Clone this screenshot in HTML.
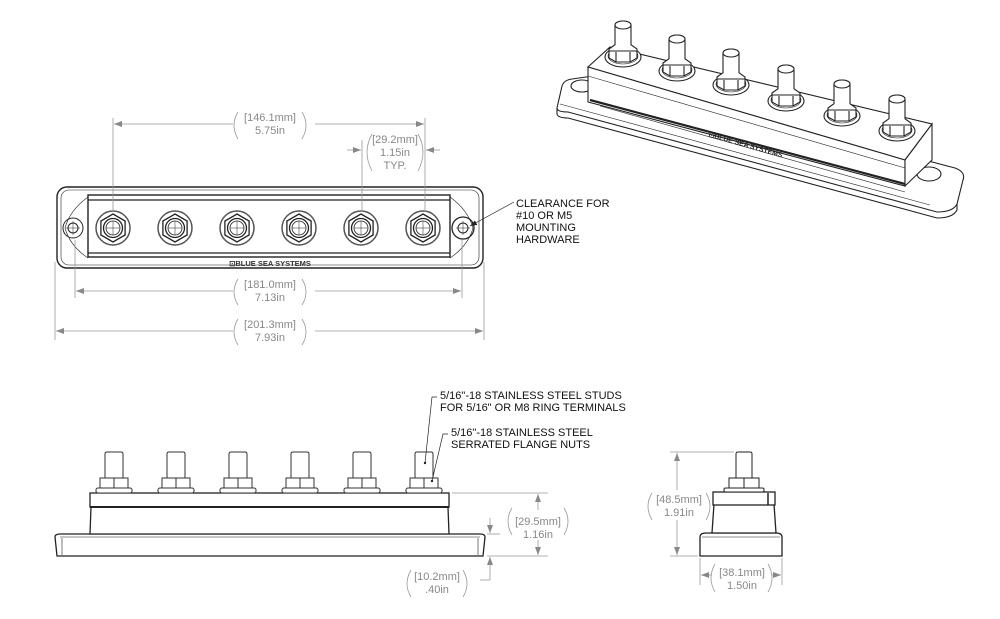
<!DOCTYPE html>
<html><head><meta charset="utf-8"><style>
html,body{margin:0;padding:0;background:#fff}
svg{display:block}
text{font-family:"Liberation Sans",sans-serif}
.d{fill:#888;font-size:11px;text-anchor:middle}
.l{fill:#111;font-size:11px}
</style></head><body>
<svg width="1000" height="619" viewBox="0 0 1000 619" xmlns="http://www.w3.org/2000/svg">
<defs>
<marker id="a" markerWidth="8" markerHeight="6" refX="8" refY="3" orient="auto" markerUnits="userSpaceOnUse"><path d="M0,0 L8,3 L0,6 z" fill="#888"/></marker>
<marker id="k" markerWidth="7" markerHeight="5" refX="7" refY="2.5" orient="auto" markerUnits="userSpaceOnUse"><path d="M0,0 L7,2.5 L0,5 z" fill="#222"/></marker>
<g id="tn" fill="none" stroke="#222">
<circle r="17" stroke="#555" stroke-width="1.5"/>
<polygon points="0,-14 12.1,-7 12.1,7 0,14 -12.1,7 -12.1,-7" stroke-width="1.3"/>
<circle r="9.5" stroke-width="1.3"/>
<circle r="7" stroke-width="0.8"/>
<line x1="-7" y1="0" x2="7" y2="0" stroke-width="0.5"/><line x1="0" y1="-7" x2="0" y2="7" stroke-width="0.5"/>
</g>
<g id="sn" fill="#fff" stroke="#333" stroke-width="1">
<path d="M-9,487 L-9,454 Q-9,452 -7,452 L7,452 Q9,452 9,454 L9,487"/>
<rect x="-14" y="478" width="28" height="10"/>
<line x1="0" y1="478" x2="0" y2="488"/>
<rect x="-18" y="488" width="36" height="5" rx="2"/>
</g>
<g id="iso" fill="#fff" stroke="#222" stroke-width="1.1">
<ellipse cx="0" cy="4" rx="18" ry="10"/>
<ellipse cx="0" cy="3" rx="15" ry="8" stroke-width="0.6"/>
<polygon points="-14,-4 -7,-9 7,-9 14,-4 14,5 7,9 -7,9 -14,5"/>
<line x1="-7" y1="-1" x2="-7" y2="9"/><line x1="7" y1="-1" x2="7" y2="9"/><line x1="-14" y1="-2" x2="14" y2="-2"/>
<path d="M-8,-8 L-8,-28 A8,4 0 0 1 8,-28 L8,-8"/>
<ellipse cx="0" cy="-28" rx="8" ry="4"/>
</g>
</defs>

<!-- ISOMETRIC -->
<g fill="#fff" stroke="#222" stroke-width="1.1">
<path d="M557,108 L562,86 Q564,80 572,79 L600,75 L955,168 Q966,172 963,180 L957,204 Q953,212 937,212 L568,112 Q557,112 557,108 z"/>
<path d="M557,108 L557,114 Q558,118 568,118 L937,218 Q953,218 957,210 L957,204" fill="none"/>
<path d="M560,104 L930,205" fill="none" stroke-width="0.6"/>
<ellipse cx="582" cy="86" rx="11" ry="6"/>
<ellipse cx="929" cy="174" rx="12" ry="7"/>
<polygon points="588,67 610,47 932,124 905,160"/>
<polygon points="588,67 905,160 905,186 588,102"/>
<polygon points="905,160 932,124 932,160 905,186"/>
<line x1="588" y1="76" x2="905" y2="168" stroke-width="0.6"/>
<line x1="590" y1="100" x2="905" y2="184" stroke-width="2.2"/>
<line x1="600" y1="106" x2="905" y2="192" stroke-width="0.6"/>
</g>
<text x="745" y="147" font-size="7" font-weight="bold" fill="#222" transform="rotate(16 745 147)" text-anchor="middle" font-family="Liberation Sans">⊡BLUE SEA SYSTEMS</text>
<use href="#iso" x="623" y="53"/><use href="#iso" x="677" y="67"/><use href="#iso" x="731" y="81"/>
<use href="#iso" x="786" y="97"/><use href="#iso" x="842" y="112"/><use href="#iso" x="897" y="127"/>

<!-- TOP VIEW -->
<g fill="none" stroke="#222">
<rect x="57" y="187" width="426" height="81" rx="10" stroke-width="1.4"/>
<rect x="61" y="190" width="418" height="75" rx="8" stroke-width="0.6"/>
<path d="M88,197 Q70,210 65,228 Q70,246 88,258" stroke-width="0.6"/>
<path d="M450,197 Q468,210 473,228 Q468,246 450,258" stroke-width="0.6"/>
<rect x="88" y="195" width="362" height="62" stroke-width="1.4"/>
<line x1="88" y1="200" x2="450" y2="200" stroke-width="1.2"/>
<line x1="88" y1="253" x2="450" y2="253" stroke-width="1.2"/>
<circle cx="73" cy="228" r="10"/><circle cx="73" cy="228" r="5"/>
<line x1="66" y1="228" x2="80" y2="228" stroke-width="0.5"/><line x1="73" y1="221" x2="73" y2="235" stroke-width="0.5"/>
<circle cx="463" cy="228" r="11" stroke-width="1.3"/><circle cx="463" cy="228" r="5"/>
<line x1="456" y1="228" x2="470" y2="228" stroke-width="0.5"/><line x1="463" y1="221" x2="463" y2="235" stroke-width="0.5"/>
</g>
<use href="#tn" x="113" y="228"/><use href="#tn" x="175" y="228"/><use href="#tn" x="237" y="228"/>
<use href="#tn" x="299" y="228"/><use href="#tn" x="361" y="228"/><use href="#tn" x="423" y="228"/>
<text x="270" y="266" font-size="7.5" font-weight="bold" fill="#333" text-anchor="middle">⊡BLUE SEA SYSTEMS</text>

<!-- dims top -->
<g stroke="#999" stroke-width="0.8" fill="none">
<line x1="113" y1="118" x2="113" y2="212"/><line x1="425" y1="118" x2="425" y2="212"/>
<line x1="233" y1="124" x2="114" y2="124" marker-end="url(#a)"/>
<line x1="315" y1="124" x2="424" y2="124" marker-end="url(#a)"/>
<line x1="362" y1="140" x2="362" y2="212"/>
<line x1="347" y1="150" x2="361" y2="150" marker-end="url(#a)"/>
<line x1="440" y1="150" x2="426" y2="150" marker-end="url(#a)"/>
<line x1="75" y1="240" x2="75" y2="298"/><line x1="462" y1="240" x2="462" y2="298"/>
<line x1="233" y1="291" x2="76" y2="291" marker-end="url(#a)"/>
<line x1="315" y1="291" x2="461" y2="291" marker-end="url(#a)"/>
<line x1="55" y1="262" x2="55" y2="340"/><line x1="484" y1="262" x2="484" y2="340"/>
<line x1="233" y1="331" x2="56" y2="331" marker-end="url(#a)"/>
<line x1="315" y1="331" x2="483" y2="331" marker-end="url(#a)"/>
<path d="M238,112 Q230,125 238,139"/><path d="M302,112 Q310,125 302,139"/>
<path d="M238,279 Q230,292 238,305"/><path d="M302,279 Q310,292 302,305"/>
<path d="M238,319 Q230,332 238,345"/><path d="M302,319 Q310,332 302,345"/>
<path d="M372,134 Q362,152 372,171"/><path d="M418,134 Q428,152 418,171"/>
</g>
<text class="d" x="270" y="121">[146.1mm]</text><text class="d" x="270" y="134">5.75in</text>
<text class="d" x="395" y="143">[29.2mm]</text><text class="d" x="395" y="156">1.15in</text><text class="d" x="395" y="169">TYP.</text>
<text class="d" x="270" y="288">[181.0mm]</text><text class="d" x="270" y="301">7.13in</text>
<text class="d" x="270" y="328">[201.3mm]</text><text class="d" x="270" y="341">7.93in</text>

<line x1="514" y1="202" x2="470" y2="226" stroke="#222" stroke-width="0.7" marker-end="url(#k)"/>
<text class="l" x="516" y="207">CLEARANCE FOR</text><text class="l" x="516" y="219">#10 OR M5</text>
<text class="l" x="516" y="231">MOUNTING</text><text class="l" x="516" y="243">HARDWARE</text>

<!-- SIDE VIEW -->
<g fill="#fff" stroke="#222">
<path d="M55,537 Q55,534 60,534 L480,534 Q485,534 485,537 L483,556 L57,556 z" stroke-width="1.3"/>
<line x1="60" y1="537" x2="480" y2="537" stroke-width="0.6"/>
<line x1="62" y1="538" x2="62" y2="555" stroke-width="0.6"/><line x1="478" y1="538" x2="478" y2="555" stroke-width="0.6"/>
<path d="M91,507 L90,534 L449,534 L448,507" stroke-width="1.3"/>
<rect x="90" y="493" width="359" height="14" stroke-width="1.3"/>
<line x1="90" y1="507" x2="449" y2="507" stroke-width="2"/>
</g>
<use href="#sn" x="114"/><use href="#sn" x="176"/><use href="#sn" x="238"/>
<use href="#sn" x="300"/><use href="#sn" x="362"/><use href="#sn" x="424"/>
<g stroke="#999" stroke-width="0.8" fill="none">
<line x1="452" y1="493" x2="548" y2="493"/><line x1="487" y1="556" x2="548" y2="556"/>
<line x1="487" y1="534" x2="500" y2="534"/>
<line x1="538" y1="510" x2="538" y2="494" marker-end="url(#a)"/>
<line x1="538" y1="540" x2="538" y2="555" marker-end="url(#a)"/>
<line x1="490" y1="518" x2="490" y2="533" marker-end="url(#a)"/>
<line x1="490" y1="580" x2="490" y2="557" marker-end="url(#a)"/>
<line x1="480" y1="580" x2="490" y2="580"/>
<path d="M512,508 Q504,521 512,535"/><path d="M564,508 Q572,521 564,535"/>
<path d="M411,570 Q403,584 411,597"/><path d="M463,570 Q471,584 463,597"/>
</g>
<text class="d" x="538" y="525">[29.5mm]</text><text class="d" x="538" y="538">1.16in</text>
<text class="d" x="437" y="580">[10.2mm]</text><text class="d" x="437" y="593">.40in</text>

<g stroke="#222" stroke-width="0.7" fill="none">
<path d="M437,397 L432,397 L425,463"/><path d="M448,434 L443,434 L432,481"/>
</g>
<circle cx="425" cy="463" r="1.2" fill="#222"/><circle cx="432" cy="481" r="1.2" fill="#222"/>
<text class="l" x="440" y="399">5/16"-18 STAINLESS STEEL STUDS</text>
<text class="l" x="440" y="411">FOR 5/16" OR M8 RING TERMINALS</text>
<text class="l" x="451" y="436">5/16"-18 STAINLESS STEEL</text>
<text class="l" x="451" y="448">SERRATED FLANGE NUTS</text>

<!-- END VIEW -->
<g fill="#fff" stroke="#222">
<path d="M700,537 Q700,533 706,533 L776,533 Q782,533 782,537 L782,556 L700,556 z" stroke-width="1.3"/>
<line x1="702" y1="537" x2="780" y2="537" stroke-width="0.6"/>
<path d="M714,504 L712,533 L776,533 L774,504" stroke-width="1.3"/>
<rect x="713" y="492" width="62" height="13" stroke-width="1.3"/>
<line x1="768" y1="493" x2="768" y2="505" stroke-width="1.5"/>
<path d="M736,478 L736,454 Q736,452 738,452 L750,452 Q752,452 752,454 L752,478" stroke-width="1"/>
<rect x="729" y="478" width="30" height="10" stroke-width="1"/>
<line x1="744" y1="478" x2="744" y2="488"/>
<rect x="724" y="488" width="40" height="4" rx="1.5"/>
</g>
<g stroke="#999" stroke-width="0.8" fill="none">
<line x1="670" y1="452" x2="734" y2="452"/><line x1="670" y1="556" x2="698" y2="556"/>
<line x1="677" y1="490" x2="677" y2="453" marker-end="url(#a)"/>
<line x1="677" y1="520" x2="677" y2="555" marker-end="url(#a)"/>
<line x1="700" y1="558" x2="700" y2="585"/><line x1="782" y1="558" x2="782" y2="585"/>
<line x1="712" y1="575" x2="701" y2="575" marker-end="url(#a)"/>
<line x1="772" y1="575" x2="781" y2="575" marker-end="url(#a)"/>
<path d="M652,493 Q644,506 652,520"/><path d="M706,493 Q714,506 706,520"/>
<path d="M715,564 Q707,578 715,592"/><path d="M768,564 Q776,578 768,592"/>
</g>
<text class="d" x="679" y="503">[48.5mm]</text><text class="d" x="679" y="516">1.91in</text>
<text class="d" x="742" y="576">[38.1mm]</text><text class="d" x="742" y="589">1.50in</text>
</svg>
</body></html>
